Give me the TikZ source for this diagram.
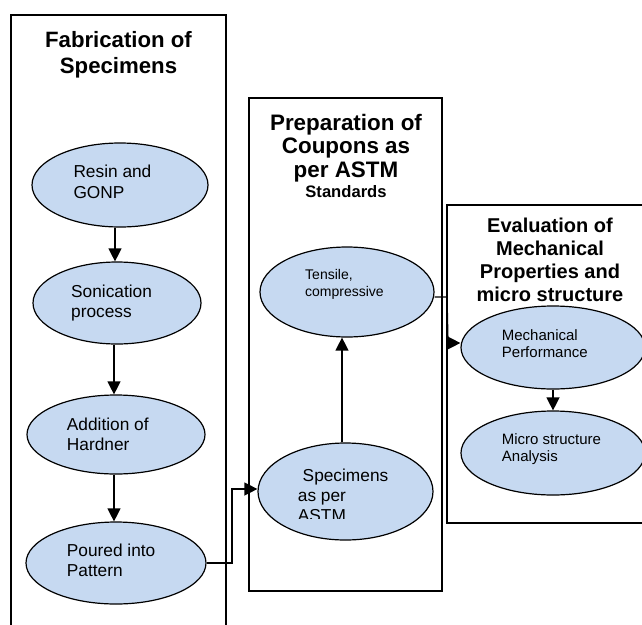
\documentclass[tikz,border=0pt]{standalone}
\usepackage{fontspec}
\setmainfont{Liberation Sans}
\usetikzlibrary{shapes.geometric,arrows.meta}
\definecolor{ellfill}{RGB}{198,217,241}
\newcommand{\mytl}[1]{\begin{tabular}[t]{@{}l@{}}#1\end{tabular}}
\newcommand{\mytc}[1]{\begin{tabular}[t]{@{}c@{}}#1\end{tabular}}
\begin{document}
\begin{tikzpicture}[x=1pt,y=-1pt,
  panel/.style={draw=black,line width=1.4pt},
  oval/.style={ellipse,draw=black,line width=1.2pt,fill=ellfill,inner sep=0pt},
  txt/.style={anchor=base west,inner sep=0pt},
  ttl/.style={anchor=base,inner sep=0pt,font=\bfseries},
  arr/.style={line width=1.3pt,-{Triangle[length=13pt,width=13pt]}}]
\useasboundingbox (0,0) rectangle (642,624);

% panels
\draw[panel] (11,640) -- (11,15) -- (226,15) -- (226,640);
\draw[panel] (249,98) rectangle (442,591);
\draw[panel] (660,205) -- (447,205) -- (447,523) -- (660,523);

% ellipses
\node[oval,minimum width=176pt,minimum height=84pt] (resin) at (120,185) {};
\node[oval,minimum width=168pt,minimum height=82pt] (sonic) at (117,303) {};
\node[oval,minimum width=178pt,minimum height=79pt] (addit) at (116,434.5) {};
\node[oval,minimum width=180pt,minimum height=82pt] (pour) at (116,563) {};
\node[oval,minimum width=174pt,minimum height=90pt] (tens) at (347,292) {};
\node[oval,minimum width=175pt,minimum height=97pt] (spec) at (345.5,491.5) {};
\node[oval,minimum width=184pt,minimum height=83pt] (mech) at (553,347.5) {};
\node[oval,minimum width=184pt,minimum height=84pt] (micro) at (553,453) {};

% ellipse texts
\node[txt] (tresin) at (73.3,177) {\fontsize{17.3}{21.5}\selectfont\mytl{Resin and\\GONP}};
\node[txt] (tsonic) at (71,297.3) {\fontsize{17.3}{20}\selectfont\mytl{Sonication\\process}};
\node[txt] (taddit) at (66.7,430.7) {\fontsize{17.3}{19.5}\selectfont\mytl{Addition of\\Hardner}};
\node[txt] (tpour) at (66.7,556.7) {\fontsize{17.3}{19.5}\selectfont\mytl{Poured into\\Pattern}};
\node[txt] (ttens) at (305,279) {\fontsize{14}{17.5}\selectfont\mytl{Tensile,\\compressive}};
\begin{scope}
\clip (285,460) rectangle (430,518.3);
\node[txt] (tspec) at (297.7,481.7) {\fontsize{17.3}{20}\selectfont\mytl{\ Specimens\\as per\\ASTM}};
\end{scope}
\node[txt] (tmech) at (501.7,340) {\fontsize{15}{17}\selectfont\mytl{Mechanical\\Performance}};
\node[txt] (tmicro) at (501.7,444) {\fontsize{15}{17.5}\selectfont\mytl{Micro structure\\Analysis}};

% titles
\node[ttl] (title1) at (118.5,47) {\fontsize{22.2}{26}\selectfont\mytc{Fabrication of\\Specimens}};
\node[ttl] (title2) at (346,130) {\fontsize{22.4}{23.5}\selectfont\mytc{Preparation of\\Coupons as\\per ASTM\\[-3.5pt]{\fontsize{16.6}{20}\selectfont Standards}}};
\node[ttl] (title3) at (550,232) {\fontsize{20}{23.3}\selectfont\mytc{Evaluation of\\Mechanical\\Properties and\\micro structure}};

% connectors
\draw[arr] ([xshift=-5pt]resin.south) -- ([xshift=-2pt]sonic.north);
\draw[arr] ([xshift=-3pt]sonic.south) -- ([xshift=-2pt]addit.north);
\draw[arr] ([xshift=-2pt]addit.south) -- ([xshift=-2pt]pour.north);
\coordinate (e1) at (232,489);
\draw[arr] (pour.east) -| (e1) -- (spec.west |- e1);
\draw[arr] ([xshift=-3.5pt]spec.north) -- ([xshift=-5pt]tens.south);
\coordinate (e2) at (447,297);
\coordinate (e3) at (448,343);
\draw[arr] ([yshift=-5pt]tens.east) -- (e2) -- (e3) -- (mech.west |- e3);
\draw[arr] (mech.south) -- (micro.north);
\end{tikzpicture}
\end{document}
